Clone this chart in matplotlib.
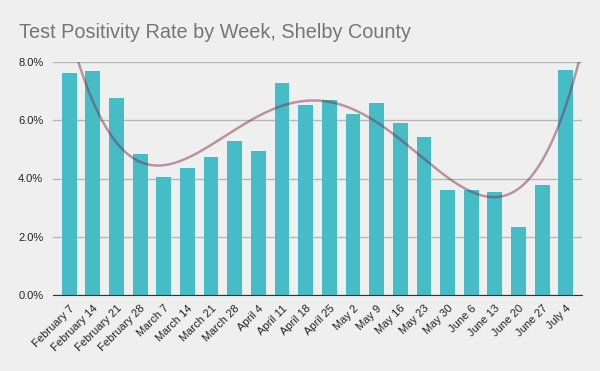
import numpy as np
import matplotlib.pyplot as plt
from matplotlib.ticker import FuncFormatter

weeks = ['February 7', 'February 14', 'February 21', 'February 28', 'March 7',
         'March 14', 'March 21', 'March 28', 'April 4', 'April 11', 'April 18',
         'April 25', 'May 2', 'May 9', 'May 16', 'May 23', 'May 30', 'June 6',
         'June 13', 'June 20', 'June 27', 'July 4']
positivity = [7.62, 7.69, 6.77, 4.85, 4.04, 4.35, 4.73, 5.28, 4.93, 7.29, 6.54,
              6.71, 6.20, 6.58, 5.89, 5.44, 3.62, 3.62, 3.52, 2.32, 3.79, 7.73]
y_ticks = [0, 2, 4, 6, 8]

plt.rcParams['font.family'] = ['Liberation Sans', 'DejaVu Sans']

bg = '#efefef'
fig = plt.figure(figsize=(6, 3.71), dpi=100, facecolor=bg)
ax = fig.add_axes([53 / 600, 1 - 295 / 371, 529 / 600, 233 / 371], facecolor=bg)

x = np.arange(len(weeks))
ax.bar(x, positivity, width=0.63, color='#46bdc6', zorder=2)

# degree-4 polynomial trendline, like the spreadsheet one
coef = np.polyfit(x, positivity, 4)
xs = np.linspace(-0.68, len(weeks) - 1 + 0.68, 300)
ax.plot(xs, np.polyval(coef, xs), color='#7a2346', alpha=0.45, lw=1.8, zorder=3)

ax.set_xlim(-0.68, len(weeks) - 1 + 0.68)
ax.set_ylim(0, 8)
ax.set_yticks(y_ticks)
ax.yaxis.set_major_formatter(FuncFormatter(lambda v, p: f'{v:.1f}%'))
ax.grid(axis='y', color='#b7b7b7', lw=1, zorder=0)
ax.set_xticks(x)
ax.set_xticklabels(weeks, rotation=45, ha='right', rotation_mode='anchor')
ax.tick_params(axis='both', length=0, labelsize=8, colors='#222222')
ax.tick_params(axis='x', pad=6)
ax.tick_params(axis='y', pad=7)
for s in ['top', 'right', 'left']:
    ax.spines[s].set_visible(False)
ax.spines['bottom'].set_color('#333333')
ax.spines['bottom'].set_zorder(4)

fig.text(19 / 600, 1 - 32 / 371, 'Test Positivity Rate by Week, Shelby County',
         fontsize=14.3, color='#757575', va='center', ha='left')

fig.savefig('out.png', dpi=100, facecolor=bg)
